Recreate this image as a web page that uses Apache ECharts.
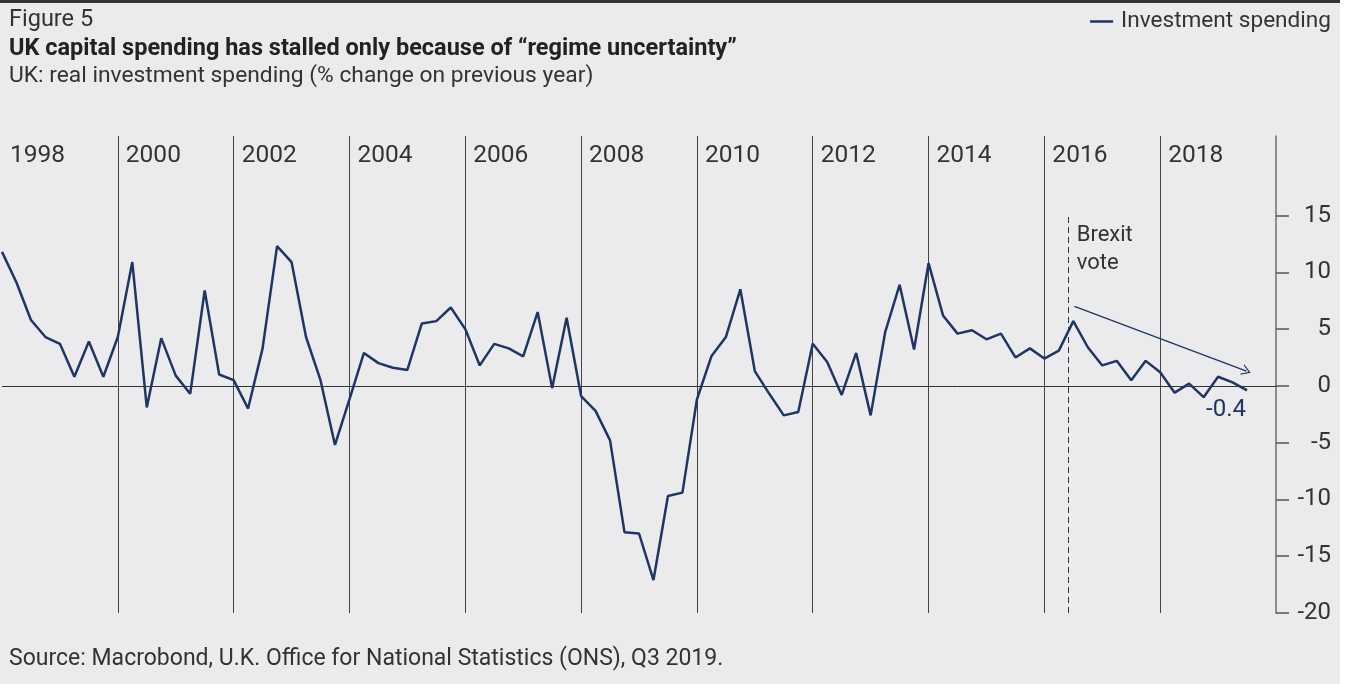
<!DOCTYPE html>
<html>
<head>
<meta charset="utf-8">
<script src="https://cdn.jsdelivr.net/npm/echarts@6/dist/echarts.min.js"></script>
<style>
  html, body { margin: 0; padding: 0; background: #ffffff; }
  #bg { position: absolute; left: 0; top: 0; width: 1340px; height: 681px; background: #ebebee; border-top: 3px solid #333333; }
  #chart { position: absolute; left: 0; top: 0; width: 1349px; height: 684px; }
</style>
</head>
<body>
<div id="bg"></div>
<div id="chart"></div>
<script>
// Quarterly data, 1998Q1 .. 2019Q3
const startYear = 1998;
const years = [1998, 1999, 2000, 2001, 2002, 2003, 2004, 2005, 2006, 2007, 2008,
               2009, 2010, 2011, 2012, 2013, 2014, 2015, 2016, 2017, 2018, 2019];
const quarters = ['Q1', 'Q2', 'Q3', 'Q4'];
const investmentSpending = [
  11.8, 9.1, 5.8, 4.3,      // 1998
  3.7, 0.8, 3.9, 0.8,       // 1999
  4.3, 10.9, -1.9, 4.2,     // 2000
  0.9, -0.7, 8.4, 1.0,      // 2001
  0.5, -2.0, 3.3, 12.3,     // 2002
  10.9, 4.3, 0.5, -5.2,     // 2003
  -1.2, 2.9, 2.0, 1.6,      // 2004
  1.4, 5.5, 5.7, 6.9,       // 2005
  5.0, 1.8, 3.7, 3.3,       // 2006
  2.6, 6.5, -0.2, 6.0,      // 2007
  -0.9, -2.2, -4.8, -12.9,  // 2008
  -13.0, -17.1, -9.7, -9.4, // 2009
  -1.2, 2.6, 4.3, 8.5,      // 2010
  1.3, -0.7, -2.6, -2.3,    // 2011
  3.7, 2.1, -0.8, 2.9,      // 2012
  -2.6, 4.7, 8.9, 3.2,      // 2013
  10.8, 6.2, 4.6, 4.9,      // 2014
  4.1, 4.6, 2.5, 3.3,       // 2015
  2.4, 3.1, 5.7, 3.4,       // 2016
  1.8, 2.2, 0.5, 2.2,       // 2017
  1.2, -0.6, 0.2, -1.0,     // 2018
  0.8, 0.3, -0.4            // 2019
];
const yTicks = [-20, -15, -10, -5, 0, 5, 10, 15];
const brexitVote = 2016.42;                       // 23 June 2016
const trendArrow = [[2016.52, 7.0], [2019.49, 1.3]];

const categories = [];
years.forEach(y => quarters.forEach(q => categories.push(y + q)));
const seriesData = investmentSpending.map((v, i) => [startYear + i / 4, v]);
const last = seriesData[seriesData.length - 1];

const FONT = 'Roboto';
const NAVY = '#1f3564';
const TXT = '#333333';

const chart = echarts.init(document.getElementById('chart'), null, { renderer: 'canvas' });
chart.setOption({
  animation: false,
  backgroundColor: 'transparent',
  textStyle: { fontFamily: FONT },
  title: [
    { text: 'Figure 5', left: 9, top: 8, padding: 0,
      textStyle: { fontFamily: FONT, fontSize: 23.5, fontWeight: 'normal', color: TXT } },
    { text: 'UK capital spending has stalled only because of \u201Cregime uncertainty\u201D', left: 9, top: 37, padding: 0,
      textStyle: { fontFamily: FONT, fontSize: 23.5, fontWeight: 'bold', color: '#222222' } },
    { text: 'UK: real investment spending (% change on previous year)', left: 9, top: 65, padding: 0,
      textStyle: { fontFamily: FONT, fontSize: 22.8, fontWeight: 'normal', color: TXT } },
    { text: 'Source: Macrobond, U.K. Office for National Statistics (ONS), Q3 2019.', left: 9, top: 648, padding: 0,
      textStyle: { fontFamily: FONT, fontSize: 23, fontWeight: 'normal', color: TXT } }
  ],
  legend: {
    data: ['Investment spending'],
    right: 18, top: 10, padding: 0,
    icon: 'rect', itemWidth: 23, itemHeight: 2.5, itemGap: 8,
    textStyle: { fontFamily: FONT, fontSize: 22.6, color: TXT, padding: [0, 0, 0, 3] }
  },
  grid: { left: 2, right: 73, top: 136, bottom: 71, containLabel: false },
  xAxis: {
    type: 'value', position: 'top', min: 1998, max: 2020, interval: 2,
    axisLine: { show: false }, axisTick: { show: false },
    axisLabel: {
      inside: true, showMaxLabel: false, showMinLabel: true,
      align: 'left', verticalAlign: 'middle', margin: 20, padding: [0, 0, 0, 8],
      fontFamily: FONT, fontSize: 24.5, color: TXT,
      formatter: v => String(v)
    },
    splitLine: { show: true, showMinLine: false, showMaxLine: false,
      lineStyle: { color: '#444444', width: 1 } }
  },
  yAxis: {
    type: 'value', position: 'right', min: -20, max: 22, interval: 5,
    axisLine: { show: true, onZero: false, lineStyle: { color: '#6e6e6e', width: 1.5 } },
    axisTick: { show: true, inside: false, length: 13, customValues: yTicks,
      lineStyle: { color: '#555555', width: 1.5 } },
    axisLabel: { show: true, customValues: yTicks, align: 'right', margin: 55,
      fontFamily: FONT, fontSize: 24, color: TXT,
      formatter: v => (v > 15 ? '' : String(v)) },
    splitLine: { show: false }
  },
  series: [{
    name: 'Investment spending',
    type: 'line',
    data: seriesData,
    showSymbol: false,
    symbol: 'none',
    color: NAVY,
    lineStyle: { color: NAVY, width: 2.5 },
    z: 5,
    markLine: {
      silent: true,
      animation: false,
      label: { show: false },
      data: [
        [{ coord: [1998, 0], symbol: 'none', lineStyle: { color: '#333333', width: 1, type: 'solid' } },
         { coord: [2020, 0], symbol: 'none' }],
        [{ coord: [brexitVote, -20], symbol: 'none', lineStyle: { color: '#333333', width: 1, type: [6, 4] } },
         { coord: [brexitVote, 15], symbol: 'none' }],
        [{ coord: trendArrow[0], symbol: 'none', lineStyle: { color: NAVY, width: 1.3, type: 'solid' } },
         { coord: trendArrow[1], symbol: 'path://M0,10 L5,0 L10,10 L8.8,10 L5,2.4 L1.2,10 Z', symbolSize: [11, 9] }]
      ]
    },
    markPoint: {
      silent: true,
      animation: false,
      symbol: 'circle', symbolSize: 1,
      itemStyle: { color: 'rgba(0,0,0,0)' },
      data: [
        { coord: last, value: last[1],
          label: { show: true, position: 'inside', offset: [-21, 20], formatter: '{c}',
            fontFamily: FONT, fontSize: 24, color: NAVY } },
        { coord: [brexitVote, 15], value: 0,
          label: { show: true, position: 'inside', align: 'left', verticalAlign: 'top',
            offset: [8, 6], formatter: 'Brexit\nvote', lineHeight: 28,
            fontFamily: FONT, fontSize: 22, color: TXT } }
      ]
    }
  }]
});
</script>
</body>
</html>
